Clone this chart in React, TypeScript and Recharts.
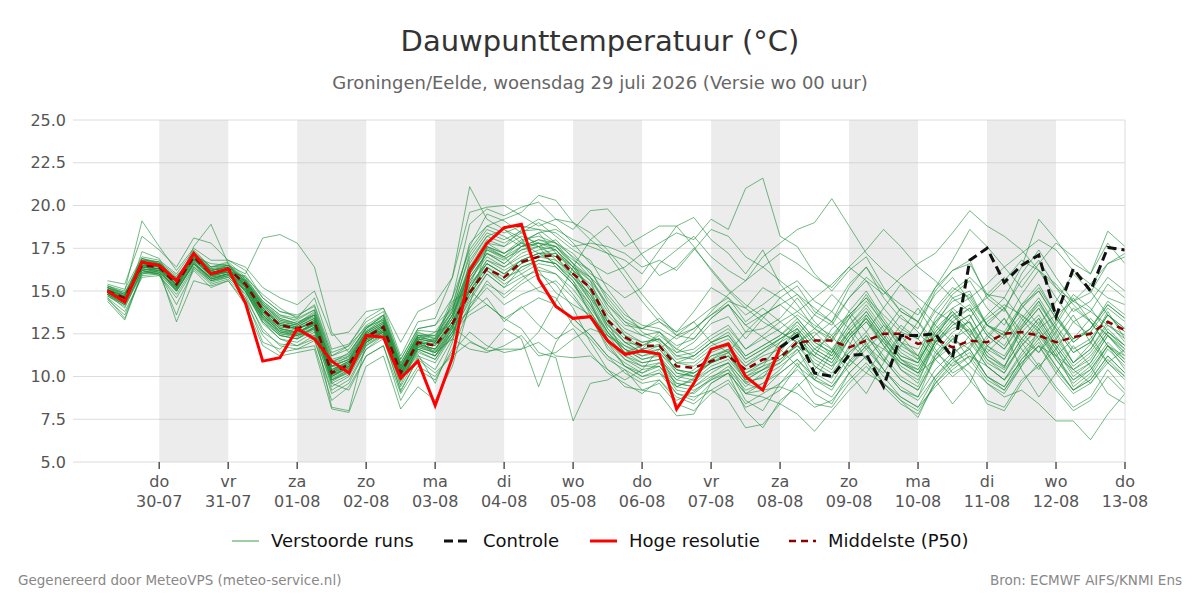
import React from 'react';
import {
  LineChart, Line, XAxis, YAxis, CartesianGrid, ReferenceArea,
} from 'recharts';

// tijdstappen: uren na 29-07 00:00, elke 6 uur
const tijden = Array.from({ length: 60 }, (_, i) => 6 + 6 * i);

const dagNamen = ['do', 'vr', 'za', 'zo', 'ma', 'di', 'wo', 'do', 'vr', 'za', 'zo', 'ma', 'di', 'wo', 'do'];
const datums = ['30-07', '31-07', '01-08', '02-08', '03-08', '04-08', '05-08', '06-08', '07-08', '08-08', '09-08', '10-08', '11-08', '12-08', '13-08'];
const dagTicks = [24, 48, 72, 96, 120, 144, 168, 192, 216, 240, 264, 288, 312, 336, 360];
const yTicks = [5, 7.5, 10, 12.5, 15, 17.5, 20, 22.5, 25];

// grijze banden om de dag
const banden = [[24, 48], [72, 96], [120, 144], [168, 192], [216, 240], [264, 288], [312, 336]];

const hogeResolutie = [
  15.0, 14.35, 16.7, 16.5, 15.6, 17.2, 16.0, 16.3, 14.3, 10.9,
  11.1, 12.8, 12.2, 10.9, 10.2, 12.4, 12.3, 9.9, 10.9, 8.3,
  11.1, 16.2, 17.8, 18.7, 18.9, 15.7, 14.1, 13.4, 13.5, 12.1,
  11.3, 11.5, 11.3, 8.1, 9.6, 11.6, 11.9, 10.0, 9.2, 11.7,
];

// controle-run vanaf 08-08 00 uur (index 39)
const controleStart = 39;
const controle = [
  11.7, 12.4, 10.2, 10.0, 11.25, 11.3, 9.4, 12.4, 12.4, 12.5,
  11.1, 16.8, 17.5, 15.5, 16.5, 17.1, 13.5, 16.3, 15.0, 17.55, 17.4,
];

const middelste = [
  15.0, 14.6, 16.5, 16.4, 15.4, 17.0, 16.0, 16.3, 15.4, 13.9,
  13.0, 12.8, 13.2, 10.2, 10.7, 12.3, 12.9, 10.2, 12.0, 11.8,
  13.1, 14.9, 16.3, 15.8, 16.7, 17.0, 17.1, 16.0, 15.2, 13.3,
  12.3, 11.8, 11.8, 10.6, 10.5, 10.9, 11.2, 10.4, 11.0, 11.1,
  12.0, 12.1, 12.1, 11.7, 12.1, 12.5, 12.5, 11.9, 12.2, 11.7,
  12.1, 12.0, 12.5, 12.6, 12.4, 12.0, 12.3, 12.5, 13.2, 12.7,
];

const verstoordeRuns: number[][] = [
  [15.1, 14.4, 16.9, 16.6, 15.3, 17.3, 16.2, 16.4, 14.6, 12.0, 11.6, 12.5, 12.4, 10.6, 10.4, 12.2, 12.6, 9.8, 11.3, 9.6, 12.0, 16.8, 18.2, 18.6, 18.1, 16.2, 14.9, 14.2, 13.6, 12.4, 11.6, 11.0, 11.3, 9.4, 9.9, 11.2, 11.5, 9.7, 9.9, 11.4, 12.8, 10.6, 9.9, 11.8, 13.6, 12.2, 10.4, 9.6, 12.1, 14.0, 13.1, 11.2, 10.5, 12.9, 14.4, 12.6, 10.8, 11.9, 13.8, 12.2],
  [14.8, 14.7, 16.4, 16.2, 15.8, 16.8, 16.1, 16.1, 15.6, 14.2, 13.4, 13.1, 13.8, 10.9, 11.2, 12.6, 13.4, 10.8, 12.5, 12.4, 14.2, 17.6, 19.5, 19.1, 18.4, 19.0, 18.2, 17.4, 16.8, 15.1, 13.8, 12.6, 12.1, 11.4, 12.0, 13.1, 13.5, 12.2, 13.4, 14.6, 15.3, 13.8, 13.2, 15.2, 16.4, 14.6, 13.4, 12.8, 15.0, 16.2, 16.8, 14.6, 13.8, 16.0, 17.4, 15.8, 14.4, 14.9, 16.6, 17.0],
  [15.2, 14.9, 16.2, 16.3, 15.0, 16.6, 15.8, 16.0, 15.9, 14.6, 13.8, 13.6, 14.1, 11.2, 11.8, 12.9, 13.3, 10.4, 12.1, 12.6, 13.0, 13.8, 14.6, 13.2, 14.1, 13.0, 12.2, 12.8, 11.4, 10.2, 9.6, 9.0, 9.8, 8.6, 9.1, 9.9, 10.6, 9.4, 10.2, 10.8, 11.6, 9.8, 9.2, 10.9, 12.0, 10.4, 9.2, 8.8, 11.2, 12.4, 11.0, 9.6, 9.0, 10.6, 12.8, 11.4, 9.4, 10.2, 11.8, 10.4],
  [14.9, 14.2, 17.3, 16.9, 15.2, 17.6, 18.9, 16.6, 15.2, 13.6, 12.8, 12.6, 13.0, 9.6, 10.1, 12.0, 12.7, 9.5, 11.8, 12.2, 14.6, 18.9, 19.8, 19.4, 19.9, 20.2, 19.2, 18.6, 19.7, 19.8, 18.6, 17.1, 15.9, 16.4, 17.5, 16.3, 15.1, 14.2, 13.5, 12.6, 12.0, 11.2, 12.8, 13.6, 11.8, 10.9, 12.6, 14.0, 12.4, 11.0, 11.6, 13.2, 14.0, 12.2, 11.4, 13.0, 14.6, 13.2, 11.8, 11.2],
  [15.0, 14.5, 16.6, 16.5, 15.6, 17.1, 16.3, 16.2, 15.0, 13.2, 12.4, 12.2, 12.9, 10.0, 10.6, 12.4, 13.0, 10.1, 12.3, 11.2, 12.8, 15.6, 17.0, 16.4, 17.2, 17.6, 18.0, 16.9, 15.8, 14.0, 12.4, 11.6, 11.9, 10.2, 10.0, 10.8, 11.4, 10.0, 10.6, 12.0, 13.2, 12.0, 11.4, 13.4, 14.8, 13.2, 11.6, 11.0, 13.0, 14.6, 15.0, 13.0, 12.2, 14.2, 15.4, 13.6, 12.0, 12.8, 14.4, 13.6],
  [15.3, 14.8, 16.8, 16.7, 15.9, 17.0, 16.6, 16.5, 16.0, 18.1, 18.3, 17.8, 16.4, 12.6, 11.4, 12.8, 13.6, 10.6, 12.4, 12.0, 13.6, 16.0, 17.5, 17.0, 17.9, 18.4, 17.2, 16.4, 15.6, 13.2, 11.2, 11.6, 12.6, 11.8, 12.2, 13.4, 14.2, 13.0, 12.3, 11.6, 10.6, 9.8, 11.4, 12.6, 11.0, 10.2, 11.8, 13.2, 11.6, 10.2, 10.8, 12.4, 13.4, 11.6, 10.4, 12.2, 13.6, 12.0, 10.8, 10.0],
  [14.6, 13.4, 16.1, 16.0, 13.6, 16.4, 15.5, 15.8, 14.8, 12.6, 11.9, 11.8, 12.2, 9.0, 9.6, 11.6, 12.4, 9.1, 11.1, 10.4, 12.2, 14.2, 15.4, 14.8, 15.6, 16.4, 16.0, 15.1, 13.8, 12.2, 11.0, 10.4, 10.6, 9.2, 9.0, 9.8, 10.4, 8.6, 8.0, 9.6, 10.8, 9.0, 8.4, 10.2, 11.2, 9.6, 8.6, 7.6, 9.8, 11.0, 10.2, 8.4, 8.0, 9.6, 10.8, 9.4, 8.2, 8.8, 10.4, 9.2],
  [15.1, 14.6, 16.3, 16.2, 15.4, 16.9, 15.9, 16.2, 15.8, 14.8, 14.0, 13.4, 14.6, 11.6, 11.9, 13.2, 13.8, 11.0, 12.8, 13.0, 14.0, 16.2, 17.8, 17.6, 18.6, 19.2, 18.8, 17.8, 16.6, 16.0, 16.4, 17.2, 17.8, 18.4, 18.0, 19.2, 18.6, 21.0, 21.6, 18.2, 17.6, 16.0, 15.0, 16.2, 17.0, 15.2, 13.8, 13.2, 14.8, 15.8, 14.4, 13.0, 12.6, 14.2, 15.0, 13.4, 12.2, 12.6, 14.0, 13.2],
  [14.7, 14.1, 16.0, 16.1, 15.2, 16.7, 15.7, 15.9, 15.1, 13.5, 12.7, 12.4, 13.1, 10.3, 10.9, 12.5, 13.1, 10.4, 12.2, 12.0, 14.4, 15.0, 14.2, 13.4, 12.8, 11.4, 11.1, 7.4, 9.6, 9.8, 10.4, 9.8, 10.2, 9.4, 9.8, 10.6, 11.0, 9.8, 10.4, 11.2, 12.2, 11.0, 10.4, 12.2, 13.2, 11.8, 10.6, 10.0, 12.0, 13.0, 13.6, 11.8, 11.0, 12.8, 14.0, 12.4, 10.8, 11.6, 13.2, 12.0],
  [15.0, 14.8, 16.4, 16.6, 15.5, 16.9, 16.1, 16.3, 15.5, 14.0, 13.1, 12.9, 13.4, 10.4, 10.8, 12.2, 12.9, 10.0, 11.9, 11.6, 12.9, 12.1, 11.5, 11.6, 11.6, 12.6, 14.4, 16.4, 18.0, 18.8, 17.6, 18.2, 18.8, 18.8, 19.3, 18.0, 17.2, 16.0, 17.4, 15.4, 14.2, 12.8, 12.0, 13.6, 14.6, 13.0, 11.8, 11.2, 13.2, 14.4, 14.8, 13.0, 12.4, 14.0, 15.2, 13.6, 12.2, 12.8, 14.2, 13.4],
  [15.4, 15.1, 17.0, 16.8, 16.0, 17.4, 16.4, 16.7, 15.8, 14.4, 13.6, 13.2, 13.6, 10.8, 11.4, 12.8, 13.6, 10.8, 12.6, 12.2, 13.8, 17.2, 18.6, 18.2, 17.6, 18.0, 17.6, 16.6, 15.0, 12.8, 11.8, 11.2, 11.6, 10.4, 10.0, 11.0, 11.6, 10.2, 10.8, 11.8, 12.6, 11.4, 10.8, 12.4, 13.4, 12.0, 10.8, 10.4, 12.0, 12.8, 13.2, 11.6, 11.0, 12.6, 13.6, 12.0, 10.6, 11.4, 12.8, 11.8],
  [14.9, 14.3, 16.5, 16.4, 15.1, 17.2, 16.0, 16.1, 15.3, 13.8, 12.9, 12.7, 13.3, 10.1, 10.5, 12.1, 12.8, 10.2, 11.7, 11.4, 12.6, 14.4, 16.0, 15.2, 16.4, 16.8, 16.6, 15.6, 13.6, 11.6, 10.8, 10.2, 10.6, 9.6, 9.4, 10.2, 10.8, 9.6, 9.2, 10.2, 11.0, 9.8, 9.4, 10.8, 11.8, 10.4, 9.2, 8.6, 10.0, 11.2, 9.8, 8.6, 8.2, 9.8, 10.6, 9.2, 8.0, 8.6, 10.0, 9.0],
  [15.2, 14.6, 16.7, 16.5, 15.7, 17.1, 16.2, 16.4, 15.6, 14.1, 13.2, 13.0, 13.5, 10.6, 11.0, 12.6, 13.2, 10.5, 12.3, 12.1, 13.4, 15.8, 17.2, 16.6, 17.6, 17.8, 17.6, 16.4, 15.8, 14.8, 13.6, 13.0, 12.8, 12.2, 12.8, 13.6, 14.4, 14.0, 15.2, 14.6, 13.8, 14.6, 15.4, 16.4, 15.6, 14.8, 15.8, 16.6, 17.2, 18.4, 19.7, 18.8, 18.2, 17.4, 16.2, 15.4, 14.2, 13.2, 12.4, 11.6],
  [14.8, 14.0, 16.2, 16.0, 15.0, 16.5, 15.6, 15.9, 15.0, 13.1, 12.2, 12.0, 12.6, 9.4, 10.0, 11.8, 12.5, 9.4, 11.2, 10.8, 12.4, 15.2, 16.8, 16.2, 16.8, 17.2, 17.0, 15.8, 14.4, 12.6, 11.4, 10.8, 11.0, 9.8, 9.6, 10.4, 10.8, 9.0, 8.8, 8.4, 7.8, 6.8, 8.0, 9.2, 10.2, 9.6, 8.8, 8.2, 9.4, 10.4, 11.2, 10.6, 9.8, 10.8, 11.8, 11.2, 10.4, 9.6, 10.8, 11.6],
  [15.0, 14.4, 16.6, 16.6, 15.5, 17.0, 16.0, 16.3, 15.2, 13.6, 12.6, 12.6, 13.0, 10.2, 10.8, 12.4, 12.9, 10.2, 12.0, 11.9, 13.0, 15.4, 17.4, 16.9, 17.4, 17.6, 17.4, 16.2, 14.6, 12.8, 11.6, 11.2, 11.4, 10.4, 10.2, 11.0, 11.4, 10.4, 10.8, 11.2, 11.8, 11.2, 10.6, 11.4, 12.2, 11.6, 10.8, 10.2, 11.0, 11.8, 10.6, 9.6, 8.8, 9.2, 8.4, 7.4, 7.4, 6.3, 7.8, 9.0],
  [15.3, 14.9, 16.9, 16.7, 15.6, 17.2, 16.4, 16.5, 15.7, 14.3, 13.5, 13.3, 13.9, 11.0, 11.3, 12.9, 13.5, 10.7, 12.7, 12.6, 14.0, 17.8, 18.8, 18.4, 18.8, 18.6, 17.8, 17.2, 16.0, 15.4, 14.6, 15.2, 16.6, 17.4, 18.2, 17.0, 16.2, 15.6, 17.0, 17.8, 18.6, 19.0, 20.4, 18.8, 17.2, 16.2, 15.4, 14.6, 13.8, 13.2, 12.6, 13.4, 14.2, 13.6, 12.8, 13.6, 14.4, 13.8, 13.0, 12.4],
  [14.9, 14.5, 16.4, 16.3, 15.3, 16.8, 15.8, 16.2, 15.4, 13.9, 13.0, 12.8, 13.1, 10.0, 10.6, 12.2, 12.7, 10.0, 11.8, 11.6, 13.2, 15.0, 16.4, 15.6, 16.6, 17.0, 17.2, 16.2, 15.2, 13.6, 12.6, 12.0, 12.2, 11.0, 11.2, 12.0, 12.6, 11.2, 11.8, 12.4, 13.4, 12.2, 11.6, 13.0, 14.2, 12.8, 11.4, 10.8, 12.6, 13.8, 12.4, 10.8, 10.2, 11.8, 12.8, 11.2, 9.8, 10.6, 12.0, 11.0],
  [15.1, 14.7, 16.6, 16.4, 15.4, 16.9, 16.0, 16.3, 15.3, 13.7, 12.8, 12.5, 13.2, 10.2, 10.6, 12.4, 13.0, 10.3, 12.1, 11.4, 12.2, 11.6, 11.4, 11.8, 12.4, 11.2, 11.4, 12.2, 12.8, 12.4, 11.8, 11.4, 11.8, 10.8, 10.8, 11.6, 12.0, 10.8, 11.4, 12.2, 13.0, 11.8, 11.2, 12.8, 13.8, 12.4, 11.0, 10.4, 12.2, 13.4, 14.0, 12.4, 11.6, 13.2, 14.4, 12.8, 11.4, 12.0, 13.6, 12.6],
  [15.0, 14.6, 16.5, 16.5, 15.3, 17.0, 16.1, 16.2, 15.4, 13.8, 12.9, 12.8, 13.2, 10.3, 10.7, 12.3, 12.9, 10.2, 12.0, 11.8, 13.4, 16.4, 18.0, 17.6, 18.2, 17.8, 16.8, 16.0, 14.4, 12.0, 10.6, 10.0, 10.4, 9.0, 8.6, 9.6, 10.2, 9.0, 9.6, 10.4, 11.6, 10.2, 9.6, 11.2, 12.4, 11.0, 9.8, 9.2, 11.0, 12.2, 12.8, 11.0, 10.2, 12.0, 13.2, 11.6, 10.0, 10.8, 12.4, 11.2],
  [15.2, 14.8, 16.8, 16.6, 15.8, 17.2, 16.2, 16.5, 15.6, 14.3, 13.4, 13.1, 13.7, 10.8, 11.1, 12.7, 13.3, 10.6, 12.4, 12.3, 13.9, 17.0, 18.4, 18.0, 18.5, 18.6, 18.4, 17.6, 17.8, 17.6, 17.2, 16.4, 16.8, 16.2, 17.4, 18.6, 18.2, 17.0, 16.4, 15.6, 14.8, 13.6, 13.0, 14.6, 15.6, 14.0, 12.8, 12.2, 14.0, 15.2, 14.6, 13.0, 12.4, 14.0, 15.0, 13.4, 12.0, 12.8, 14.2, 13.4],
  [14.8, 14.3, 16.3, 16.1, 15.2, 16.7, 15.7, 16.0, 15.2, 13.4, 12.5, 12.3, 12.9, 9.8, 10.3, 12.0, 12.6, 9.9, 11.6, 11.2, 12.6, 14.8, 16.2, 15.4, 16.0, 16.6, 16.4, 15.4, 14.2, 12.6, 11.6, 11.0, 11.2, 10.0, 10.2, 10.8, 11.2, 9.8, 10.4, 11.0, 11.8, 10.8, 10.2, 11.6, 12.6, 11.2, 10.0, 9.4, 11.4, 12.6, 13.2, 11.4, 10.6, 12.2, 13.4, 11.8, 10.4, 11.2, 12.6, 11.6],
  [15.3, 15.0, 19.1, 17.6, 16.2, 17.5, 16.8, 16.8, 16.2, 14.6, 13.8, 13.5, 14.2, 11.4, 11.8, 13.4, 14.0, 11.2, 13.2, 13.4, 15.8, 21.1, 19.2, 18.6, 17.8, 17.2, 16.6, 15.8, 14.6, 13.2, 12.2, 11.6, 11.8, 10.8, 11.2, 12.0, 12.4, 11.0, 11.6, 12.2, 12.8, 11.6, 11.0, 12.6, 13.6, 12.2, 11.0, 10.6, 12.4, 13.6, 14.2, 12.6, 11.8, 13.4, 14.6, 13.0, 11.6, 12.2, 13.6, 12.8],
  [14.6, 13.8, 15.8, 15.9, 14.6, 16.3, 15.4, 15.7, 14.6, 12.8, 11.8, 11.6, 12.1, 9.2, 9.8, 11.6, 12.2, 9.2, 11.0, 10.2, 11.2, 12.0, 11.6, 12.8, 12.2, 9.4, 12.0, 13.4, 12.4, 11.2, 10.2, 9.6, 9.8, 8.8, 8.4, 9.2, 9.8, 8.4, 9.0, 9.6, 10.4, 9.4, 8.8, 10.2, 11.2, 10.0, 8.8, 8.2, 10.0, 11.0, 11.6, 10.0, 9.4, 11.0, 12.0, 10.6, 9.2, 9.8, 11.2, 10.2],
  [15.1, 14.5, 16.7, 16.4, 15.5, 17.0, 16.0, 16.3, 15.5, 14.0, 13.1, 12.9, 13.4, 10.4, 10.9, 12.5, 13.1, 10.4, 12.2, 12.0, 13.6, 16.6, 18.2, 17.8, 18.4, 17.6, 16.4, 15.4, 14.0, 12.6, 11.4, 11.8, 12.4, 11.6, 12.6, 13.8, 14.8, 15.6, 16.4, 17.2, 16.6, 15.8, 15.2, 16.4, 17.4, 18.6, 17.6, 16.4, 15.6, 14.6, 13.8, 14.6, 15.6, 16.8, 16.2, 15.2, 14.4, 15.4, 16.6, 17.2],
  [14.9, 14.4, 16.4, 16.3, 15.4, 16.8, 15.9, 16.1, 15.3, 13.8, 12.8, 12.6, 13.1, 10.1, 10.6, 12.2, 12.8, 10.1, 11.9, 11.6, 13.0, 15.2, 16.8, 16.4, 17.0, 17.4, 17.6, 16.8, 16.2, 14.4, 13.2, 12.4, 12.0, 10.8, 10.6, 11.4, 11.8, 10.6, 11.2, 11.6, 12.4, 11.2, 10.6, 12.2, 13.4, 11.8, 10.4, 9.8, 11.8, 13.0, 13.6, 11.8, 11.2, 12.8, 14.0, 12.2, 10.8, 11.6, 13.0, 12.2],
  [15.0, 14.6, 16.6, 16.5, 15.5, 17.1, 16.1, 16.3, 15.5, 14.0, 13.0, 12.8, 13.3, 10.3, 10.8, 12.4, 13.0, 10.3, 12.1, 11.9, 13.2, 15.4, 16.6, 16.0, 16.8, 17.2, 17.2, 16.2, 15.4, 13.8, 12.8, 12.4, 12.6, 11.4, 11.6, 12.4, 13.0, 11.6, 12.2, 12.8, 13.6, 12.8, 12.2, 13.4, 14.4, 13.2, 12.0, 11.6, 13.2, 14.0, 14.6, 15.4, 16.4, 17.2, 18.0, 17.4, 16.2, 15.4, 14.6, 14.2],
  [14.8, 14.2, 16.1, 16.2, 15.1, 16.6, 15.7, 16.0, 15.0, 13.4, 12.4, 12.2, 12.8, 8.2, 8.0, 12.0, 12.6, 9.8, 11.6, 11.2, 12.4, 14.6, 16.0, 15.2, 15.8, 16.2, 16.0, 14.8, 13.4, 11.8, 10.6, 10.0, 10.2, 9.0, 8.8, 9.2, 8.6, 7.0, 7.2, 8.4, 9.6, 8.4, 8.2, 9.6, 10.6, 9.4, 8.4, 7.8, 9.6, 10.6, 11.2, 9.8, 9.2, 10.8, 11.8, 10.2, 9.0, 9.6, 11.0, 10.0],
  [15.1, 14.7, 16.7, 16.6, 15.6, 17.1, 16.2, 16.4, 15.5, 14.1, 13.2, 13.0, 13.6, 10.6, 11.0, 12.6, 13.2, 10.5, 12.3, 12.1, 13.6, 16.2, 17.8, 17.2, 18.0, 18.2, 17.8, 17.0, 16.2, 14.6, 13.4, 12.8, 12.6, 11.6, 11.2, 12.0, 12.4, 11.2, 11.8, 12.4, 13.2, 12.0, 11.4, 13.0, 14.0, 12.6, 11.2, 10.8, 12.8, 13.8, 12.8, 11.2, 10.6, 12.2, 13.4, 11.8, 10.4, 11.0, 12.6, 11.8],
  [15.0, 14.5, 16.5, 16.4, 15.4, 17.0, 16.0, 16.2, 15.4, 13.9, 13.0, 12.8, 13.2, 10.2, 10.7, 12.3, 12.9, 10.2, 12.0, 11.8, 13.2, 15.8, 17.2, 16.6, 17.4, 17.8, 17.6, 16.6, 15.6, 14.2, 13.0, 12.8, 13.4, 12.6, 13.2, 14.0, 14.6, 13.6, 14.2, 15.0, 15.6, 14.4, 13.8, 15.4, 16.4, 15.0, 13.8, 13.2, 15.2, 16.2, 16.6, 14.8, 14.0, 15.6, 16.8, 15.2, 13.8, 14.4, 15.8, 15.0],
  [14.9, 14.4, 16.5, 16.3, 15.3, 16.9, 15.9, 16.2, 15.3, 13.7, 12.8, 12.6, 13.1, 10.0, 10.5, 12.1, 12.7, 10.0, 11.8, 11.5, 12.9, 15.0, 16.6, 16.0, 16.8, 17.2, 17.4, 16.4, 15.0, 13.2, 12.0, 11.4, 11.6, 10.4, 10.2, 10.8, 11.2, 10.2, 10.6, 11.0, 11.8, 10.6, 10.0, 11.4, 12.4, 11.0, 9.8, 9.2, 11.2, 12.2, 11.6, 10.0, 9.4, 11.0, 12.2, 10.6, 9.2, 10.0, 11.6, 10.6],
  [14.4, 13.3, 16.0, 16.2, 13.2, 15.6, 15.3, 15.6, 14.2, 11.8, 11.2, 11.4, 11.6, 8.1, 7.9, 10.6, 11.2, 8.1, 9.4, 8.6, 10.6, 14.2, 17.6, 17.0, 16.0, 15.0, 14.6, 13.0, 12.2, 11.0, 10.4, 9.2, 9.0, 7.7, 7.8, 9.6, 10.2, 8.0, 7.0, 8.6, 9.4, 10.4, 11.6, 10.2, 9.0, 10.8, 12.4, 11.2, 9.8, 8.4, 9.6, 11.8, 12.6, 10.4, 8.8, 10.2, 11.8, 10.6, 9.0, 8.4],
  [15.6, 15.4, 18.2, 17.4, 16.4, 18.1, 17.8, 16.8, 16.4, 15.2, 14.6, 14.2, 15.0, 12.4, 12.6, 13.8, 14.0, 12.0, 13.8, 14.3, 15.8, 19.6, 19.9, 20.0, 19.4, 18.8, 19.2, 19.0, 18.0, 17.2, 15.8, 14.4, 13.2, 12.6, 13.8, 15.2, 14.6, 13.2, 14.0, 13.2, 12.4, 13.6, 14.8, 13.8, 12.6, 14.0, 15.4, 14.2, 13.0, 12.0, 13.4, 14.8, 15.8, 14.2, 13.0, 14.4, 16.0, 15.0, 13.6, 12.8],
  [14.5, 13.6, 15.9, 16.0, 14.2, 16.2, 15.2, 15.6, 14.4, 12.4, 11.4, 11.6, 11.8, 8.6, 9.4, 11.2, 11.8, 8.6, 10.4, 9.8, 11.6, 14.0, 15.6, 14.6, 15.4, 16.0, 15.4, 14.0, 12.0, 10.4, 9.4, 9.2, 9.6, 8.4, 8.0, 9.0, 9.6, 8.2, 8.6, 9.2, 10.6, 11.6, 12.4, 11.0, 10.2, 11.6, 13.0, 12.2, 11.0, 10.0, 10.8, 12.2, 13.4, 12.0, 10.6, 11.6, 13.2, 12.4, 10.8, 9.8],
  [15.2, 14.8, 16.8, 16.7, 15.7, 17.3, 16.4, 16.6, 15.7, 14.4, 13.6, 13.4, 13.9, 11.2, 11.6, 13.0, 13.6, 11.0, 12.8, 13.0, 14.6, 17.4, 18.8, 19.2, 19.6, 20.6, 20.3, 19.0, 18.4, 17.4, 16.2, 14.8, 13.6, 12.4, 12.2, 13.4, 14.2, 12.6, 12.8, 13.4, 14.6, 13.2, 12.2, 13.8, 15.0, 13.4, 12.0, 11.2, 13.4, 14.8, 15.6, 14.0, 13.0, 14.8, 16.2, 14.6, 13.2, 13.8, 15.4, 14.6],
  [14.7, 14.2, 16.2, 15.9, 14.8, 16.4, 15.6, 15.8, 14.9, 13.2, 12.2, 11.8, 12.4, 9.6, 9.2, 11.2, 11.8, 9.0, 10.6, 10.0, 11.4, 12.6, 11.8, 11.4, 11.6, 12.0, 11.2, 11.1, 11.2, 10.4, 9.8, 10.4, 11.6, 12.4, 13.2, 12.0, 11.4, 12.6, 13.6, 14.2, 13.4, 12.2, 11.2, 12.6, 13.8, 12.4, 11.0, 10.2, 12.0, 13.2, 12.2, 10.6, 9.8, 11.4, 12.6, 11.0, 9.6, 10.4, 11.8, 10.8],
  [15.0, 14.6, 16.6, 16.4, 15.4, 17.0, 16.0, 16.3, 15.4, 13.9, 13.0, 12.8, 13.2, 10.2, 10.6, 12.2, 12.8, 10.2, 11.9, 11.6, 13.0, 15.6, 17.2, 16.8, 17.6, 18.0, 17.8, 16.6, 15.8, 14.2, 13.2, 12.8, 13.2, 12.4, 12.8, 13.6, 14.2, 13.0, 13.6, 14.2, 14.8, 14.0, 13.2, 14.6, 15.8, 15.0, 14.2, 13.6, 15.2, 16.8, 18.6, 17.6, 16.4, 15.2, 16.6, 17.8, 17.0, 16.0, 18.5, 17.6],
  [14.9, 14.6, 16.3, 16.1, 15.1, 16.6, 15.8, 16.0, 15.0, 13.4, 12.6, 12.4, 12.8, 9.8, 10.2, 11.8, 12.4, 9.8, 11.4, 11.0, 12.4, 14.0, 15.2, 14.2, 14.8, 15.2, 15.6, 14.6, 13.4, 12.0, 11.0, 10.6, 10.8, 9.6, 9.4, 10.0, 10.4, 9.2, 9.6, 10.2, 11.0, 10.0, 9.4, 10.6, 11.6, 10.4, 9.4, 8.8, 10.4, 11.4, 12.0, 10.6, 9.8, 11.2, 12.4, 11.0, 9.8, 10.4, 11.8, 10.8],
  [15.1, 14.6, 16.6, 16.6, 15.6, 17.2, 16.2, 16.4, 15.6, 14.2, 13.3, 13.1, 13.6, 10.6, 11.2, 12.8, 13.4, 10.6, 12.4, 12.4, 13.8, 16.4, 17.6, 17.2, 17.8, 18.4, 18.6, 18.0, 17.6, 17.2, 16.8, 16.0, 17.4, 18.8, 17.6, 16.2, 15.0, 14.0, 13.2, 12.6, 12.0, 12.8, 13.8, 12.8, 11.6, 12.6, 14.0, 13.2, 12.0, 11.2, 12.4, 13.6, 14.6, 13.4, 12.2, 13.2, 14.8, 14.0, 12.6, 11.8],
  [15.0, 14.3, 16.4, 16.3, 15.2, 16.9, 15.9, 16.1, 15.2, 13.6, 12.7, 12.5, 13.0, 10.0, 10.5, 12.1, 12.7, 10.0, 11.8, 11.4, 12.8, 15.2, 16.6, 16.0, 16.6, 17.0, 16.8, 15.8, 14.8, 13.0, 12.0, 11.4, 11.4, 10.2, 10.0, 10.8, 11.2, 10.0, 10.4, 10.8, 12.0, 12.6, 11.6, 10.6, 11.8, 13.0, 12.0, 11.0, 12.4, 13.6, 12.6, 11.4, 12.4, 13.6, 12.6, 11.2, 12.2, 13.4, 12.4, 11.4],
  [14.8, 14.4, 16.3, 16.2, 15.0, 16.6, 15.7, 16.0, 15.1, 13.5, 12.5, 12.4, 12.8, 9.8, 10.4, 12.0, 12.6, 9.8, 11.6, 11.2, 12.6, 14.8, 16.2, 15.6, 16.4, 16.8, 16.6, 15.6, 14.2, 12.4, 11.2, 10.6, 10.6, 9.4, 9.2, 9.8, 10.2, 9.0, 9.2, 9.4, 9.0, 8.2, 8.6, 9.8, 10.8, 9.6, 8.6, 8.0, 9.6, 10.8, 11.4, 10.0, 9.2, 10.6, 11.8, 10.4, 9.2, 9.8, 11.2, 10.2],
  [15.2, 14.7, 16.9, 16.6, 15.7, 17.2, 16.3, 16.5, 15.6, 14.2, 13.3, 13.0, 13.6, 10.6, 11.0, 12.6, 13.2, 10.6, 12.4, 12.2, 13.6, 16.0, 17.4, 17.0, 17.6, 17.8, 17.4, 16.4, 15.2, 13.4, 12.4, 12.0, 12.2, 11.2, 11.0, 11.8, 12.2, 11.0, 11.6, 12.2, 12.8, 11.6, 11.0, 12.4, 13.4, 12.2, 11.2, 10.8, 12.6, 13.6, 12.4, 11.0, 10.4, 11.8, 13.0, 11.6, 10.2, 10.8, 12.4, 11.4],
  [15.0, 14.5, 16.5, 16.5, 15.5, 17.0, 16.1, 16.2, 15.4, 14.0, 13.1, 12.9, 13.4, 10.4, 10.9, 12.5, 13.1, 10.4, 12.2, 12.0, 13.4, 16.0, 17.6, 17.2, 17.8, 17.6, 17.0, 16.0, 14.8, 13.0, 12.0, 11.8, 12.2, 11.2, 11.4, 12.2, 12.8, 11.6, 12.4, 13.2, 13.8, 13.0, 12.4, 13.6, 14.6, 13.6, 12.6, 12.2, 13.8, 15.0, 15.8, 14.8, 14.6, 16.4, 19.2, 18.0, 16.6, 16.0, 17.8, 16.6],
  [14.9, 14.5, 16.4, 16.3, 15.3, 16.8, 15.9, 16.1, 15.2, 13.6, 12.6, 12.4, 12.9, 9.9, 10.4, 12.0, 12.6, 9.9, 11.7, 11.4, 12.8, 15.0, 16.4, 15.8, 16.2, 16.8, 16.6, 15.4, 13.8, 12.2, 11.2, 10.8, 11.0, 10.0, 9.8, 10.4, 10.8, 9.6, 10.0, 10.6, 11.4, 12.4, 13.2, 12.0, 11.0, 12.2, 13.6, 12.6, 11.4, 10.6, 11.8, 13.0, 14.0, 12.6, 11.4, 12.6, 14.0, 13.2, 11.8, 11.0],
  [14.8, 14.2, 16.2, 16.0, 15.0, 16.6, 15.6, 15.9, 15.0, 13.3, 12.4, 12.2, 12.7, 9.7, 10.3, 11.9, 12.5, 9.7, 11.5, 11.0, 12.6, 13.6, 14.2, 13.4, 14.0, 14.6, 14.2, 13.4, 12.4, 11.2, 10.6, 10.2, 10.8, 9.8, 10.4, 11.2, 11.6, 10.6, 11.4, 12.0, 12.6, 11.4, 10.8, 12.2, 13.2, 12.0, 10.8, 10.2, 12.0, 13.2, 14.0, 12.4, 11.6, 13.0, 14.2, 12.8, 11.4, 12.0, 13.6, 12.6],
];

const rijen = tijden.map((h, i) => {
  const rij: Record<string, number | null> = {
    h,
    hres: i < hogeResolutie.length ? hogeResolutie[i] : null,
    ctrl: i >= controleStart ? controle[i - controleStart] : null,
    p50: middelste[i],
  };
  verstoordeRuns.forEach((run, k) => { rij[`m${k}`] = run[i]; });
  return rij;
});

const FONT = '"DejaVu Sans", Verdana, sans-serif';

const DagTick = (props: any) => {
  const { x, y, payload } = props;
  const idx = dagTicks.indexOf(payload.value);
  return (
    <g transform={`translate(${x},${y})`}>
      <text textAnchor="middle" fill="#555" fontSize={16} fontFamily={FONT}>
        <tspan x={0} dy={16}>{dagNamen[idx]}</tspan>
        <tspan x={0} dy={20}>{datums[idx]}</tspan>
      </text>
    </g>
  );
};

const legendItems = [
  { label: 'Verstoorde runs', color: '#3aa04a', width: 1, dash: undefined, left: 232 },
  { label: 'Controle', color: '#111', width: 3, dash: '9 5', left: 444 },
  { label: 'Hoge resolutie', color: '#ff0000', width: 3, dash: undefined, left: 590 },
  { label: 'Middelste (P50)', color: '#8b0000', width: 2.5, dash: '7 5', left: 789 },
];

const App: React.FC = () => {
  return (
    <div style={{ position: 'absolute', left: 0, top: 0, width: 1200, height: 600, background: '#fff', fontFamily: FONT }}>
      <div style={{ position: 'absolute', top: 23, width: 1200, textAlign: 'center', fontSize: 29, lineHeight: '36px', color: '#333' }}>
        Dauwpunttemperatuur (°C)
      </div>
      <div style={{ position: 'absolute', top: 72, width: 1200, textAlign: 'center', fontSize: 18, lineHeight: '22px', color: '#666' }}>
        Groningen/Eelde, woensdag 29 juli 2026 (Versie wo 00 uur)
      </div>

      <div style={{ position: 'absolute', left: 0, top: 0 }}>
        <LineChart width={1200} height={520} data={rijen} margin={{ top: 120, right: 15, bottom: 8, left: 13 }}>
          <CartesianGrid vertical={false} stroke="#dcdcdc" />
          {banden.map(([a, b], i) => (
            <ReferenceArea key={i} x1={a} x2={b} fill="#c8c8c8" fillOpacity={0.35} stroke="none" ifOverflow="hidden" />
          ))}
          <XAxis
            dataKey="h"
            type="number"
            domain={[-6, 360]}
            ticks={dagTicks}
            interval={0}
            allowDataOverflow
            axisLine={false}
            tickLine={{ stroke: '#555', strokeWidth: 1.5 }}
            tickSize={7}
            tickMargin={2}
            tick={<DagTick />}
            height={50}
          />
          <YAxis
            domain={[5, 25]}
            ticks={yTicks}
            interval={0}
            width={60}
            axisLine={false}
            tickLine={false}
            tickSize={5}
            tickMargin={2}
            tickFormatter={(v: number) => v.toFixed(1)}
            tick={{ fill: '#555', fontSize: 16, fontFamily: FONT }}
          />
          <YAxis
            yAxisId="rechts"
            orientation="right"
            domain={[5, 25]}
            ticks={yTicks}
            interval={0}
            width={60}
            axisLine={{ stroke: '#dcdcdc' }}
            tickLine={false}
            tickSize={5}
            tickMargin={2}
            tickFormatter={(v: number) => v.toFixed(1)}
            tick={{ fill: '#555', fontSize: 16, fontFamily: FONT }}
          />
          {verstoordeRuns.map((_, k) => (
            <Line
              key={k}
              dataKey={`m${k}`}
              stroke="#1f8f3a"
              strokeOpacity={0.62}
              strokeWidth={1}
              dot={false}
              isAnimationActive={false}
            />
          ))}
          <Line dataKey="p50" stroke="#8b0000" strokeWidth={2.5} strokeDasharray="7 5" dot={false} isAnimationActive={false} />
          <Line dataKey="ctrl" stroke="#111" strokeWidth={3} strokeDasharray="9 5" dot={false} isAnimationActive={false} />
          <Line dataKey="hres" stroke="#ff0000" strokeWidth={3} dot={false} isAnimationActive={false} />
        </LineChart>
      </div>

      {legendItems.map((it) => (
        <div key={it.label} style={{ position: 'absolute', left: it.left, top: 531, height: 20, display: 'flex', alignItems: 'center' }}>
          <svg width={27} height={10} style={{ marginRight: 12 }}>
            <line x1={0} y1={5} x2={27} y2={5} stroke={it.color} strokeWidth={it.width} strokeDasharray={it.dash} />
          </svg>
          <span style={{ fontSize: 18, lineHeight: '20px', color: '#111' }}>{it.label}</span>
        </div>
      ))}

      <div style={{ position: 'absolute', left: 18, top: 572, fontSize: 13.5, lineHeight: '16px', color: '#888' }}>
        Gegenereerd door MeteoVPS (meteo-service.nl)
      </div>
      <div style={{ position: 'absolute', right: 18, top: 572, fontSize: 13.5, lineHeight: '16px', color: '#888' }}>
        Bron: ECMWF AIFS/KNMI Ens
      </div>
    </div>
  );
};

export default App;
